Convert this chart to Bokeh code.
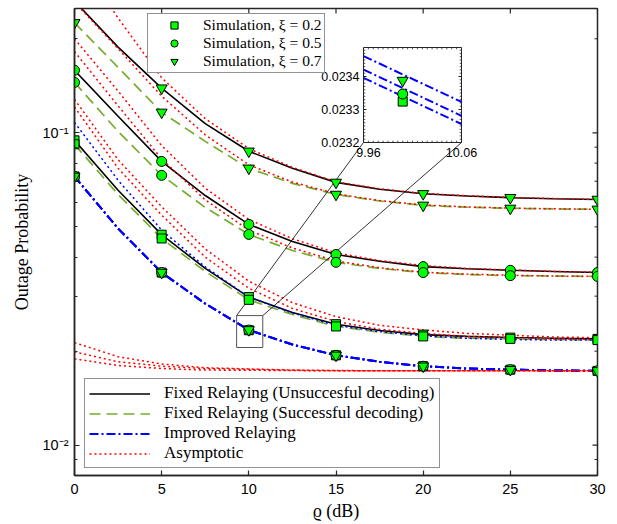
import math
from bokeh.plotting import figure
from bokeh.models import Range1d, LinearScale, FixedTicker, Legend, LegendItem
from bokeh.core.properties import value
from bokeh.embed import file_html
from bokeh.resources import INLINE

# ---------------- data ----------------
snr = [0, 2.5, 5, 7.5, 10, 12.5, 15, 17.5, 20, 22.5, 25, 27.5, 30]

fix_unsucc_07 = [0.264, 0.188, 0.139, 0.107, 0.0873, 0.0770, 0.0694, 0.0660, 0.0638, 0.0628, 0.0620, 0.0615, 0.0612]
fix_succ_07 = [0.225, 0.162, 0.1163, 0.0939, 0.0770, 0.0689, 0.0635, 0.0605, 0.0586, 0.0578, 0.0573, 0.0571, 0.0569]
fix_unsucc_05 = [0.1586, 0.113, 0.0810, 0.0630, 0.0509, 0.0449, 0.0408, 0.0388, 0.0373, 0.0367, 0.0363, 0.0360, 0.0357]
fix_succ_05 = [0.145, 0.101, 0.0731, 0.0577, 0.0473, 0.0420, 0.0385, 0.0368, 0.0357, 0.0352, 0.0349, 0.0348, 0.0347]
fix_unsucc_02 = [0.0946, 0.0655, 0.0472, 0.0368, 0.0298, 0.0266, 0.0244, 0.0233, 0.0226, 0.0223, 0.0221, 0.0220, 0.0219]
fix_succ_02 = [0.0919, 0.0635, 0.0459, 0.0360, 0.0292, 0.0262, 0.0240, 0.0230, 0.0223, 0.0220, 0.0219, 0.0218, 0.0217]
improved_07 = [0.0725, 0.0494, 0.0357, 0.0284, 0.02341, 0.0210, 0.0194, 0.0185, 0.0179, 0.0176, 0.01745, 0.01735, 0.0173]
improved_05 = [0.0725, 0.0494, 0.0357, 0.0284, 0.02337, 0.0210, 0.0194, 0.0185, 0.0179, 0.0176, 0.01745, 0.01735, 0.0173]
improved_02 = [0.0725, 0.0494, 0.0357, 0.0284, 0.02334, 0.0210, 0.0194, 0.0185, 0.0179, 0.0176, 0.01745, 0.01735, 0.0173]
extra_dotted_02 = [0.108, 0.0705, 0.0488, 0.0372, 0.0298, 0.0265, 0.0242, 0.0231, 0.0224, 0.0220, 0.0218, 0.0217, 0.0217]

asym_unsucc_07 = [0.376, 0.233, 0.150, 0.111, 0.089, 0.0775, 0.0697, 0.0662, 0.0640, 0.0629, 0.0621, 0.0616, 0.0612]
asym_succ_07 = [0.262, 0.186, 0.131, 0.0985, 0.0790, 0.0696, 0.0638, 0.0607, 0.0588, 0.0579, 0.0574, 0.0571, 0.0569]
asym_unsucc_05 = [0.200, 0.136, 0.0910, 0.0665, 0.0528, 0.0458, 0.0413, 0.0390, 0.0376, 0.0368, 0.0364, 0.0360, 0.0358]
asym_succ_05 = [0.182, 0.122, 0.0825, 0.0610, 0.0488, 0.0428, 0.0389, 0.0370, 0.0358, 0.0353, 0.0350, 0.0348, 0.0347]
asym_unsucc_02 = [0.128, 0.082, 0.0580, 0.0425, 0.0335, 0.0286, 0.0258, 0.0242, 0.0234, 0.0228, 0.0225, 0.0222, 0.0221]
asym_succ_02 = [0.121, 0.077, 0.0545, 0.0400, 0.0318, 0.0274, 0.0249, 0.0235, 0.0228, 0.0223, 0.0221, 0.0219, 0.0218]
asym_improved_07 = [0.0213, 0.0192, 0.0182, 0.0177, 0.01755, 0.0174, 0.01735, 0.0173, 0.0173, 0.0173, 0.0173, 0.0173, 0.0173]
asym_improved_05 = [0.0199, 0.0185, 0.0179, 0.0176, 0.0175, 0.01738, 0.01733, 0.0173, 0.0173, 0.0173, 0.0173, 0.0173, 0.0173]
asym_improved_02 = [0.0189, 0.0180, 0.0176, 0.0174, 0.01738, 0.01734, 0.0173, 0.0173, 0.0173, 0.0173, 0.0173, 0.0173, 0.0173]

# simulation points are every 5 dB (every other entry)
sim_snr = snr[::2]

# inset (zoom around 10 dB)
inset_x = [9.96, 10.06]
inset_improved_07 = [0.023462, 0.023323]
inset_improved_05 = [0.023421, 0.023281]
inset_improved_02 = [0.023396, 0.023256]
inset_sim_x = [10.0]
inset_sim_07 = [0.023388]
inset_sim_05 = [0.023347]
inset_sim_02 = [0.023324]
inset_yticks = [0.0232, 0.0233, 0.0234]
inset_ytick_labels = ["0.0232", "0.0233", "0.0234"]
inset_xticks = [9.96, 10.06]
inset_xtick_labels = ["9.96", "10.06"]

# zoomed region marked on the main axes
zoom_x = [9.3, 10.8]
zoom_y = [0.02055, 0.0260]

x_ticks = [0, 5, 10, 15, 20, 25, 30]
y_major = [0.01, 0.1]
y_minor = [0.008, 0.009, 0.02, 0.03, 0.04, 0.05, 0.06, 0.07, 0.08, 0.09, 0.2]
y_labels = {0.01: "10\u207b\u00b2", 0.1: "10\u207b\u00b9"}

# ---------------- layout constants ----------------
W, H = 617, 524
FL, FT, FR, FB = 74, 8, 597, 475
X0, X1 = 0, 30
Y0, Y1 = 0.008, 0.25
IL, IT, IR, IB = 363, 47, 461, 142
IX0, IX1 = 9.96, 10.06
IY0, IY1 = 0.0232, 0.023488

kx = (IR - IL) / (IX1 - IX0)
ky = (IB - IT) / (IY1 - IY0)
LY0, LY1 = math.log10(Y0), math.log10(Y1)


def px_to_main(px, py):
    x = X0 + (px - FL) / (FR - FL) * (X1 - X0)
    ly = LY1 - (py - FT) / (FB - FT) * (LY1 - LY0)
    return x, 10 ** ly


def inset_to_px(x, y):
    return IL + (x - IX0) * kx, IB - (y - IY0) * ky


def dx_px(n):  # n pixels expressed in x data units
    return n / (FR - FL) * (X1 - X0)


def ylog_shift(y, n):  # value n pixels above y on the log axis
    return 10 ** (math.log10(y) + n / (FB - FT) * (LY1 - LY0))


BLACK = "black"
GREEN = "#77AC30"
BLUE = "#0000FF"
RED = "#FF0000"
MARK = "#00FF00"
AXC = "#262626"
SERIF = "Liberation Serif"
SANS = "Liberation Sans"

p = figure(width=W, height=H, x_range=Range1d(X0, X1), y_range=Range1d(Y0, Y1),
           y_axis_type="log", output_backend="svg", toolbar_location=None,
           min_border_left=FL, min_border_right=W - FR, min_border_top=FT,
           min_border_bottom=H - FB)
p.extra_x_ranges = {"ix": Range1d(IX0 - (IL - FL) / kx, IX1 + (FR - IR) / kx)}
p.extra_y_ranges = {"iy": Range1d(IY0 - (FB - IB) / ky, IY1 + (IT - FT) / ky)}
p.extra_x_scales = {"ix": LinearScale()}
p.extra_y_scales = {"iy": LinearScale()}
p.xgrid.visible = False
p.ygrid.visible = False
p.outline_line_color = AXC
p.outline_line_width = 1.5
p.background_fill_color = "white"
p.border_fill_color = "white"

# axes
xa = p.xaxis[0]
xa.ticker = FixedTicker(ticks=x_ticks)
ya = p.yaxis[0]
ya.ticker = FixedTicker(ticks=y_major, minor_ticks=y_minor)
ya.major_label_overrides = y_labels
for ax in (xa, ya):
    ax.axis_line_color = AXC
    ax.axis_line_width = 1.5
    ax.major_tick_line_color = AXC
    ax.minor_tick_line_color = AXC
    ax.major_tick_line_width = 1.2
    ax.major_tick_in = 5
    ax.major_tick_out = 0
    ax.minor_tick_in = 3
    ax.minor_tick_out = 0
    ax.major_label_text_font = SANS
    ax.major_label_text_font_size = "14.5px"
    ax.major_label_text_color = "black"
    ax.axis_label_text_font = SERIF
    ax.axis_label_text_font_size = "18px"
    ax.axis_label_text_font_style = "normal"
    ax.axis_label_text_color = "black"
xa.minor_tick_line_color = None
xa.axis_label = "\u03f1 (dB)"
xa.major_label_standoff = 8
xa.axis_label_standoff = 4
ya.axis_label = "Outage Probability"
ya.major_label_standoff = 6
ya.axis_label_standoff = 8

# ticks on the top and right edges of the box
top_y = [Y1] * len(x_ticks)
p.segment(x0=x_ticks, y0=top_y, x1=x_ticks, y1=[ylog_shift(Y1, -5)] * len(x_ticks),
          line_color=AXC, line_width=1.2)
p.segment(x0=[X1] * len(y_major), y0=y_major, x1=[X1 - dx_px(5)] * len(y_major), y1=y_major,
          line_color=AXC, line_width=1.2)
p.segment(x0=[X1] * len(y_minor), y0=y_minor, x1=[X1 - dx_px(3)] * len(y_minor), y1=y_minor,
          line_color=AXC, line_width=1)

# ---------------- curves ----------------
r_black = None
for ys in (fix_unsucc_07, fix_unsucc_05, fix_unsucc_02):
    r = p.line(snr, ys, line_color=BLACK, line_width=1.6)
    r_black = r_black or r
r_green = None
for ys in (fix_succ_07, fix_succ_05, fix_succ_02):
    r = p.line(snr, ys, line_color=GREEN, line_width=1.7, line_dash="11 6")
    r_green = r_green or r
r_blue = None
for ys in (improved_02, improved_05, improved_07):
    r = p.line(snr, ys, line_color=BLUE, line_width=2, line_dash="9 3 2 3")
    r_blue = r_blue or r
p.line(snr, extra_dotted_02, line_color=BLUE, line_width=1.5, line_dash="2 3")
r_red = None
for ys in (asym_unsucc_07, asym_succ_07, asym_unsucc_05, asym_succ_05, asym_unsucc_02,
           asym_succ_02, asym_improved_07, asym_improved_05, asym_improved_02):
    r = p.line(snr, ys, line_color=RED, line_width=1.5, line_dash="2 3")
    r_red = r_red or r

# zoom rectangle and connectors
p.quad(left=[zoom_x[0]], right=[zoom_x[1]], bottom=[zoom_y[0]], top=[zoom_y[1]],
       fill_color=None, line_color="#555555", line_width=1)
c1 = px_to_main(*inset_to_px(IX0, IY0))
c2 = px_to_main(*inset_to_px(IX1, IY0))
p.segment(x0=[zoom_x[0], zoom_x[1]], y0=[zoom_y[1], zoom_y[1]],
          x1=[c1[0], c2[0]], y1=[c1[1], c2[1]], line_color="black", line_width=0.8)

# simulation markers
sq = ci = tr = None
for ys in (fix_unsucc_02, fix_succ_02, improved_02):
    r = p.scatter(sim_snr, ys[::2], marker="square", size=9, fill_color=MARK,
                  line_color="black", line_width=1)
    sq = sq or r
for ys in (fix_unsucc_05, fix_succ_05, improved_05):
    r = p.scatter(sim_snr, ys[::2], marker="circle", size=10, fill_color=MARK,
                  line_color="black", line_width=1)
    ci = ci or r
for ys in (fix_unsucc_07, fix_succ_07, improved_07):
    r = p.scatter(sim_snr, ys[::2], marker="inverted_triangle", size=11, fill_color=MARK,
                  line_color="black", line_width=1)
    tr = tr or r

# ---------------- inset ----------------
IR_ = dict(x_range_name="ix", y_range_name="iy")
p.quad(left=[IX0], right=[IX1], bottom=[IY0], top=[IY1], fill_color="white",
       line_color=AXC, line_width=1, **IR_)
for ys in (inset_improved_07, inset_improved_05, inset_improved_02):
    p.line(inset_x, ys, line_color=BLUE, line_width=2, line_dash="9 3 2 3", **IR_)
p.scatter(inset_sim_x, inset_sim_02, marker="square", size=9, fill_color=MARK,
          line_color="black", **IR_)
p.scatter(inset_sim_x, inset_sim_05, marker="circle", size=10, fill_color=MARK,
          line_color="black", **IR_)
p.scatter(inset_sim_x, inset_sim_07, marker="inverted_triangle", size=11, fill_color=MARK,
          line_color="black", **IR_)
# inset ticks
tl_x = 3 / kx
tl_y = 3 / ky
p.segment(x0=[IX0] * 3 + [IX1] * 3, y0=inset_yticks * 2,
          x1=[IX0 + tl_x] * 3 + [IX1 - tl_x] * 3, y1=inset_yticks * 2,
          line_color=AXC, line_width=1, **IR_)
minor_y = [IY0 + i * 0.00001 for i in range(1, 29)]
p.segment(x0=[IX0] * len(minor_y) + [IX1] * len(minor_y), y0=minor_y * 2,
          x1=[IX0 + tl_x * 0.6] * len(minor_y) + [IX1 - tl_x * 0.6] * len(minor_y), y1=minor_y * 2,
          line_color=AXC, line_width=0.8, **IR_)
minor_x = [IX0 + i * 0.005 for i in range(1, 20)]
p.segment(x0=minor_x * 2, y0=[IY0] * len(minor_x) + [IY1] * len(minor_x),
          x1=minor_x * 2, y1=[IY0 + tl_y * 0.6] * len(minor_x) + [IY1 - tl_y * 0.6] * len(minor_x),
          line_color=AXC, line_width=0.8, **IR_)
p.text(x=[IX0] * 3, y=inset_yticks, text=inset_ytick_labels, x_offset=-4,
       text_align="right", text_baseline="middle", text_font=value(SANS),
       text_font_size="12.5px", text_color="black", **IR_)
p.text(x=inset_xticks, y=[IY0, IY0], text=inset_xtick_labels, x_offset=[5, 0], y_offset=5,
       text_align="center", text_baseline="top", text_font=value(SANS),
       text_font_size="12.5px", text_color="black", **IR_)

# ---------------- legends ----------------
leg1 = Legend(items=[LegendItem(label="Simulation, \u03be = 0.2", renderers=[sq]),
                     LegendItem(label="Simulation, \u03be = 0.5", renderers=[ci]),
                     LegendItem(label="Simulation, \u03be = 0.7", renderers=[tr])],
              location=(147 - FL, FB - 73), orientation="vertical")
leg2 = Legend(items=[LegendItem(label="Fixed Relaying (Unsuccesful decoding)", renderers=[r_black]),
                     LegendItem(label="Fixed Relaying (Successful decoding)", renderers=[r_green]),
                     LegendItem(label="Improved Relaying", renderers=[r_blue]),
                     LegendItem(label="Asymptotic", renderers=[r_red])],
              location=(84 - FL, FB - 468), orientation="vertical")
for lg in (leg1, leg2):
    lg.label_text_font = SERIF
    lg.label_text_color = "black"
    lg.border_line_color = AXC
    lg.border_line_width = 1
    lg.background_fill_color = "white"
    lg.background_fill_alpha = 1
    lg.spacing = 0
    lg.margin = 0
leg1.label_text_font_size = "15.5px"
leg1.glyph_width = 48
leg1.glyph_height = 18
leg1.label_height = 18
leg1.padding = 2
leg1.label_standoff = 5
leg2.label_text_font_size = "17px"
leg2.glyph_width = 61
leg2.glyph_height = 19
leg2.label_height = 19
leg2.padding = 4
leg2.label_standoff = 14
p.add_layout(leg1)
p.add_layout(leg2)

open("out.html", "w").write(file_html(p, INLINE))
